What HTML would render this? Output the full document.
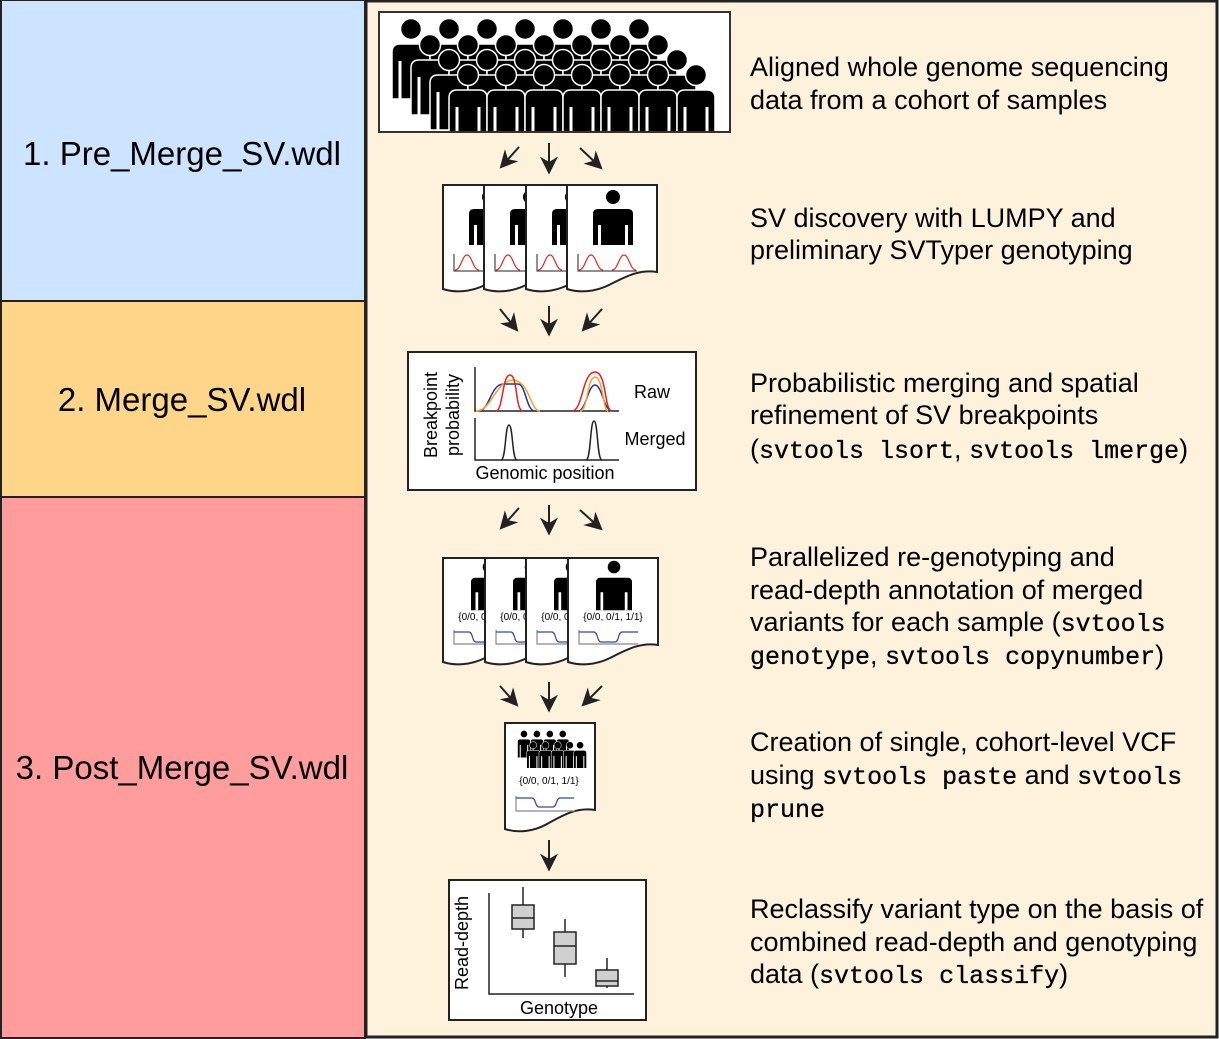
<!DOCTYPE html>
<html><head><meta charset="utf-8"><style>
html,body{margin:0;padding:0;background:#fff;}
svg{display:block;}
.s{font-family:"Liberation Sans",sans-serif;}
.m{font-family:"Liberation Mono",monospace;}
</style></head><body>
<svg width="1219" height="1039" viewBox="0 0 1219 1039" xmlns="http://www.w3.org/2000/svg">
<defs>
<g id="p">
<path d="M-22,70 V23 Q-22,15 -14,15 H8 Q16,15 16,23 V70 Z" fill="#000" stroke="#fff" stroke-width="1.5"/>
<path d="M-14,32 V70 M8,32 V70" stroke="#fff" stroke-width="3"/>
<circle cx="-3" cy="0" r="10.5" fill="#000" stroke="#fff" stroke-width="1.5"/>
</g>
<g id="sp">
<circle cx="0" cy="0" r="7" fill="#000"/>
<path d="M-20,48 V17 Q-20,12 -15,12 H15 Q20,12 20,17 V48 Z" fill="#000"/>
<path d="M-13.5,28 V48 M13.5,28 V48" stroke="#fff" stroke-width="3"/>
</g>
<path id="pg" d="M0,0 H90 V87 C72,84 58,92 42,100 C28,107 12,108 0,104 Z" fill="#fff" stroke="#222" stroke-width="2"/>
<g id="page1">
<use href="#pg"/>
<use href="#sp" x="46" y="12"/>
<path d="M11,69 V86 H70" fill="none" stroke="#222" stroke-width="1"/>
<path d="M12,85 C18,85 19,70 24,70 C29,70 30,85 36,85" fill="none" stroke="#e22" stroke-width="1.2"/>
<path d="M45,85 C51,85 52,70 57,70 C62,70 63,85 69,85" fill="none" stroke="#e22" stroke-width="1.2"/>
</g>
<g id="page2">
<use href="#pg"/>
<use href="#sp" transform="translate(46,9) scale(0.9)"/>
<text x="45" y="62" font-size="10" text-anchor="middle" class="s">{0/0, 0/1, 1/1}</text>
<path d="M11,72 V86 H70" fill="none" stroke="#888" stroke-width="1.2"/>
<path d="M11,74 H26 C30,74 29,84 33,84 H47 C51,84 50,74 54,74 H70" fill="none" stroke="#2a4aa8" stroke-width="1.2"/>
</g>
<marker id="ah" viewBox="0 0 10 10" refX="8" refY="5" markerWidth="9" markerHeight="9" markerUnits="strokeWidth" orient="auto"><path d="M0,0 L10,5 L0,10 L3,5 Z" fill="#222"/></marker>
</defs>
<rect x="0" y="0" width="365" height="301" fill="#cce4ff"/>
<rect x="0" y="301" width="365" height="196" fill="#ffd589"/>
<rect x="0" y="497" width="365" height="542" fill="#ff9d9d"/>
<path d="M0,301 H365 M0,497 H365" stroke="#222" stroke-width="2"/>
<rect x="1" y="0" width="364" height="1038" fill="none" stroke="#222" stroke-width="2"/>
<rect x="366" y="1" width="851" height="1036" fill="#fff2dd" stroke="#222" stroke-width="3"/>
<text x="182" y="165" font-size="33" text-anchor="middle" class="s">1. Pre_Merge_SV.wdl</text>
<text x="182" y="411" font-size="33" text-anchor="middle" class="s">2. Merge_SV.wdl</text>
<text x="182" y="779" font-size="33" text-anchor="middle" class="s">3. Post_Merge_SV.wdl</text>

<svg x="380" y="13" width="350" height="119" viewBox="380 13 350 119">
<rect x="380" y="13" width="350" height="119" fill="#fff"/>
<use href="#p" x="414" y="29"/><use href="#p" x="452" y="29"/><use href="#p" x="490" y="29"/><use href="#p" x="528" y="29"/><use href="#p" x="566" y="29"/><use href="#p" x="604" y="29"/><use href="#p" x="642" y="29"/>
<use href="#p" x="433" y="45"/><use href="#p" x="471" y="45"/><use href="#p" x="509" y="45"/><use href="#p" x="547" y="45"/><use href="#p" x="585" y="45"/><use href="#p" x="623" y="45"/><use href="#p" x="661" y="45"/>
<use href="#p" x="452" y="60"/><use href="#p" x="490" y="60"/><use href="#p" x="528" y="60"/><use href="#p" x="566" y="60"/><use href="#p" x="604" y="60"/><use href="#p" x="642" y="60"/><use href="#p" x="680" y="60"/>
<use href="#p" x="471" y="75"/><use href="#p" x="509" y="75"/><use href="#p" x="547" y="75"/><use href="#p" x="585" y="75"/><use href="#p" x="623" y="75"/><use href="#p" x="661" y="75"/><use href="#p" x="699" y="75"/>
</svg>
<rect x="379" y="12" width="351" height="120" fill="none" stroke="#333" stroke-width="2"/>

<g stroke="#222" stroke-width="2" marker-end="url(#ah)" fill="none">
<path d="M519,147 L502,166"/><path d="M549,143 V171"/><path d="M580,148 L600,167"/>
<path d="M500,309 L516,329"/><path d="M549,306 V333"/><path d="M602,309 L584,329"/>
<path d="M519,508 L502,527"/><path d="M549,505 V532"/><path d="M580,510 L600,528"/>
<path d="M500,686 L516,704"/><path d="M549,682 V709"/><path d="M602,686 L584,704"/>
<path d="M549,840 V868"/>
</g>

<use href="#page1" x="443" y="185"/>
<use href="#page1" x="484" y="185"/>
<use href="#page1" x="526" y="185"/>
<use href="#page1" x="567" y="185"/>

<rect x="408" y="352" width="288" height="138" fill="#fff" stroke="#222" stroke-width="2"/>
<path d="M475,367 V411 H619 M475,418 V460 H619" fill="none" stroke="#222" stroke-width="1.5"/>
<path d="M478,411 C490,411 490,385 503,384 H518 C526,384 526,411 535,411" fill="none" stroke="#2233aa" stroke-width="1.5"/>
<path d="M476,411 C492,411 495,381 513,380 C530,381 530,411 540,411" fill="none" stroke="#f5a623" stroke-width="1.5"/>
<path d="M496,411 C503,411 502,375 510,375 C518,375 515,411 523,411" fill="none" stroke="#e82020" stroke-width="1.5"/>
<path d="M578,411 C586,411 588,385 595,385 C602,385 604,411 612,411" fill="none" stroke="#2233aa" stroke-width="1.5"/>
<path d="M580,411 C588,411 587,377 595,377 C603,377 603,411 608,411" fill="none" stroke="#f5a623" stroke-width="1.5"/>
<path d="M572,411 C583,411 582,372 595,372 C607,372 604,411 612,411" fill="none" stroke="#e82020" stroke-width="1.5"/>
<path d="M501,460 C506,460 505,425 509,425 C513,425 512,460 517,460" fill="none" stroke="#222" stroke-width="1.5"/>
<path d="M586,460 C591,460 590,421 594,421 C598,421 597,460 602,460" fill="none" stroke="#222" stroke-width="1.5"/>
<text x="652" y="398" font-size="18" text-anchor="middle" class="s">Raw</text>
<text x="655" y="445" font-size="18" text-anchor="middle" class="s">Merged</text>
<text x="545" y="479" font-size="18" text-anchor="middle" class="s">Genomic position</text>
<text transform="translate(437,415) rotate(-90)" font-size="18" text-anchor="middle" class="s">Breakpoint</text>
<text transform="translate(459,415) rotate(-90)" font-size="18" text-anchor="middle" class="s">probability</text>

<use href="#page2" x="443" y="558"/>
<use href="#page2" x="485" y="558"/>
<use href="#page2" x="526" y="558"/>
<use href="#page2" x="568" y="558"/>

<path d="M505,723 H595 V810 C577,807 563,815 547,824 C533,832 517,833 505,829 Z" fill="#fff" stroke="#222" stroke-width="2"/>
<svg x="506" y="724" width="88" height="44" viewBox="506 724 88 44">
<g transform="translate(525,734) scale(0.34)">
<use href="#p" x="0" y="0"/><use href="#p" x="38" y="0"/><use href="#p" x="76" y="0"/><use href="#p" x="114" y="0"/>
<use href="#p" x="27" y="33"/><use href="#p" x="63" y="33"/><use href="#p" x="99" y="33"/><use href="#p" x="135" y="33"/><use href="#p" x="165" y="33"/>
</g>
</svg>
<text x="549" y="784" font-size="10" text-anchor="middle" class="s">{0/0, 0/1, 1/1}</text>
<path d="M516,796 V811 H575" fill="none" stroke="#888" stroke-width="1.2"/>
<path d="M516,798 H532 C536,798 535,807 539,807 H553 C557,807 556,798 560,798 H574" fill="none" stroke="#2a4aa8" stroke-width="1.2"/>

<rect x="449" y="880" width="197" height="140" fill="#fff" stroke="#222" stroke-width="2"/>
<path d="M489,893 V994 H634" fill="none" stroke="#222" stroke-width="1.5"/>
<g stroke="#222" stroke-width="1.5">
<path d="M523,887 V938 M565,919 V977 M607,958 V988"/>
<rect x="512" y="905" width="22" height="24" fill="#d0d0d0"/><path d="M512,918 H534"/>
<rect x="554" y="932" width="22" height="32" fill="#d0d0d0"/><path d="M554,946 H576"/>
<rect x="596" y="970" width="22" height="16" fill="#d0d0d0"/><path d="M596,981 H618"/>
</g>
<text x="559" y="1014" font-size="18" text-anchor="middle" class="s">Genotype</text>
<text transform="translate(468,943) rotate(-90)" font-size="18" text-anchor="middle" class="s">Read-depth</text>

<g class="s" font-size="27" fill="#000">
<text x="750" y="76">Aligned whole genome sequencing</text>
<text x="750" y="109">data from a cohort of samples</text>
<text x="750" y="227">SV discovery with LUMPY and</text>
<text x="750" y="259">preliminary SVTyper genotyping</text>
<text x="750" y="392">Probabilistic merging and spatial</text>
<text x="750" y="424">refinement of SV breakpoints</text>
<text x="750" y="458">(<tspan class="m" font-size="25" stroke="#000" stroke-width="0.3">svtools lsort</tspan>, <tspan class="m" font-size="25" stroke="#000" stroke-width="0.3">svtools lmerge</tspan>)</text>
<text x="750" y="566">Parallelized re-genotyping and</text>
<text x="750" y="599">read-depth annotation of merged</text>
<text x="750" y="631">variants for each sample (<tspan class="m" font-size="25" stroke="#000" stroke-width="0.3">svtools</tspan></text>
<text x="750" y="664"><tspan class="m" font-size="25" stroke="#000" stroke-width="0.3">genotype</tspan>, <tspan class="m" font-size="25" stroke="#000" stroke-width="0.3">svtools copynumber</tspan>)</text>
<text x="750" y="751">Creation of single, cohort-level VCF</text>
<text x="750" y="784">using <tspan class="m" font-size="25" stroke="#000" stroke-width="0.3">svtools paste</tspan> and <tspan class="m" font-size="25" stroke="#000" stroke-width="0.3">svtools</tspan></text>
<text x="750" y="817"><tspan class="m" font-size="25" stroke="#000" stroke-width="0.3">prune</tspan></text>
<text x="750" y="918">Reclassify variant type on the basis of</text>
<text x="750" y="951">combined read-depth and genotyping</text>
<text x="750" y="983">data (<tspan class="m" font-size="25" stroke="#000" stroke-width="0.3">svtools classify</tspan>)</text>
</g>
</svg>
</body></html>
